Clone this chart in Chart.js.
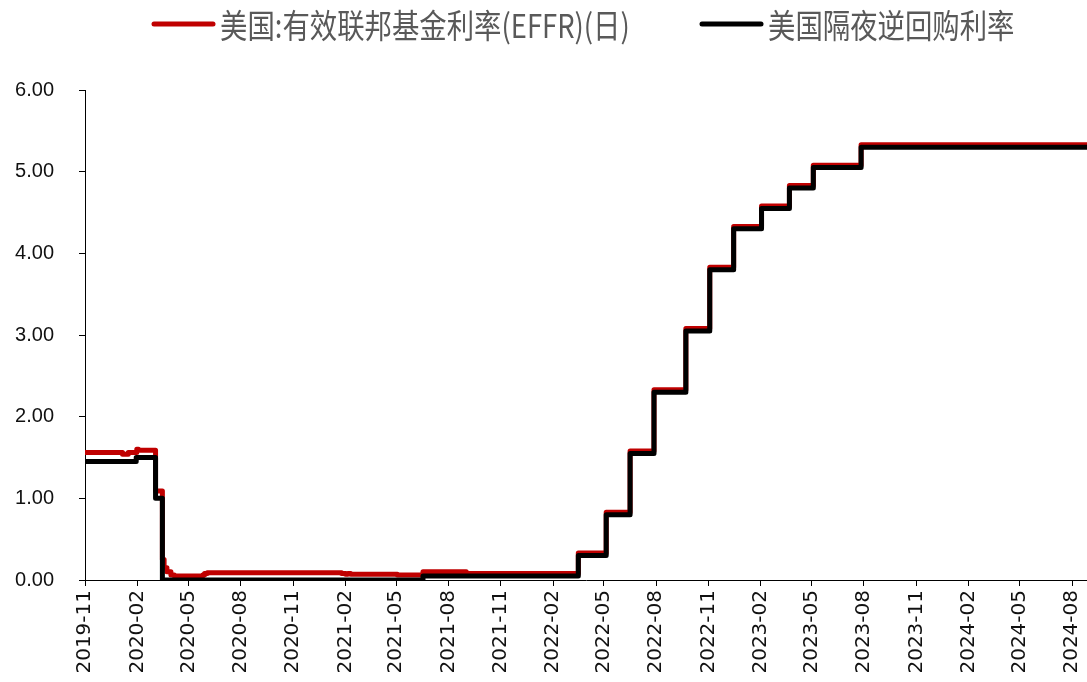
<!DOCTYPE html>
<html>
<head>
<meta charset="utf-8">
<script src="https://cdn.jsdelivr.net/npm/chart.js@4.4.1/dist/chart.umd.min.js"></script>
<style>
  html, body { margin: 0; padding: 0; background: #fff; }
  #wrap { width: 1087px; height: 682px; position: relative; }
</style>
</head>
<body>
<div id="wrap"><canvas id="c" width="1087" height="682"></canvas></div>
<script>
// Series labels
const seriesNames = ['美国:有效联邦基金利率(EFFR)(日)', '美国隔夜逆回购利率'];

// Effective federal funds rate: dates where the rate changes, and the new level (%)
const effrDates = [
  '2019-11-01', '2020-01-06', '2020-01-16', '2020-01-31', '2020-02-03',
  '2020-03-04', '2020-03-16', '2020-03-19', '2020-03-24', '2020-03-31',
  '2020-04-06', '2020-05-26', '2020-05-29', '2020-06-03', '2021-01-25',
  '2021-02-01', '2021-02-05', '2021-02-10', '2021-05-03', '2021-06-17',
  '2021-09-01', '2022-03-17', '2022-05-05', '2022-06-16', '2022-07-28',
  '2022-09-22', '2022-11-03', '2022-12-15', '2023-02-02', '2023-03-23',
  '2023-05-04', '2023-07-27', '2024-08-27'
];
const effrValues = [
  1.56, 1.54, 1.56, 1.60, 1.59,
  1.09, 0.25, 0.15, 0.10, 0.06,
  0.05, 0.06, 0.08, 0.09, 0.08,
  0.07, 0.08, 0.07, 0.06, 0.10,
  0.08, 0.33, 0.83, 1.58, 2.33,
  3.08, 3.83, 4.33, 4.58, 4.83,
  5.08, 5.33, 5.33
];

// Overnight reverse repo offering rate: change dates and levels (%)
const rrpDates = [
  '2019-11-01', '2020-01-30', '2020-03-04', '2020-03-16', '2021-06-17',
  '2022-03-17', '2022-05-05', '2022-06-16', '2022-07-28', '2022-09-22',
  '2022-11-03', '2022-12-15', '2023-02-02', '2023-03-23', '2023-05-04',
  '2023-07-27', '2024-08-27'
];
const rrpValues = [
  1.45, 1.50, 1.00, 0.00, 0.05,
  0.30, 0.80, 1.55, 2.30, 3.05,
  3.80, 4.30, 4.55, 4.80, 5.05,
  5.30, 5.30
];

// Month labels along the date axis
const tickLabels = [
  '2019-11', '2020-02', '2020-05', '2020-08', '2020-11', '2021-02', '2021-05',
  '2021-08', '2021-11', '2022-02', '2022-05', '2022-08', '2022-11', '2023-02',
  '2023-05', '2023-08', '2023-11', '2024-02', '2024-05', '2024-08'
];

// Start and end of the plotted period
const startDate = '2019-11-01';
const endDate = '2024-08-27';

const seriesColors = ['#C00000', '#000000'];

function dayNumber(s) {
  const p = s.split('-').map(Number);
  return Math.round(Date.UTC(p[0], p[1] - 1, p[2] || 1) / 86400000);
}
const day0 = dayNumber(startDate);
const toX = s => dayNumber(s) - day0;

const effrPoints = effrDates.map((d, i) => ({ x: toX(d), y: effrValues[i] }));
const rrpPoints = rrpDates.map((d, i) => ({ x: toX(d), y: rrpValues[i] }));
const tickValues = tickLabels.map(l => toX(l + '-01'));
const labelByValue = {};
tickValues.forEach((v, i) => { labelByValue[v] = tickLabels[i]; });

// Legend drawn across the top: line sample followed by the series name
const topLegend = {
  id: 'topLegend',
  afterDraw(chart) {
    const ctx = chart.ctx;
    const y = 24;
    const itemStarts = [152, 700];
    const sampleW = 63, gap = 5, squeeze = 0.83;
    ctx.save();
    ctx.font = '33px "Noto Sans CJK SC"';
    ctx.textBaseline = 'middle';
    chart.data.datasets.forEach((ds, i) => {
      const x = itemStarts[i];
      ctx.strokeStyle = ds.borderColor;
      ctx.lineWidth = 5;
      ctx.lineCap = 'round';
      ctx.beginPath();
      ctx.moveTo(x + 2, y);
      ctx.lineTo(x + sampleW - 2, y);
      ctx.stroke();
      const tx = x + sampleW + gap;
      ctx.save();
      ctx.translate(tx, y);
      ctx.scale(squeeze, 1);
      ctx.fillStyle = '#595959';
      ctx.fillText(ds.label, 0, 1);
      ctx.restore();
    });
    ctx.restore();
  }
};

new Chart(document.getElementById('c'), {
  type: 'line',
  data: {
    datasets: [
      {
        label: seriesNames[0],
        data: effrPoints,
        borderColor: seriesColors[0],
        backgroundColor: seriesColors[0],
        borderWidth: 5,
        stepped: true,
        pointRadius: 0,
        borderJoinStyle: 'round',
        borderCapStyle: 'round',
        order: 2
      },
      {
        label: seriesNames[1],
        data: rrpPoints,
        borderColor: seriesColors[1],
        backgroundColor: seriesColors[1],
        borderWidth: 5,
        stepped: true,
        pointRadius: 0,
        borderJoinStyle: 'round',
        borderCapStyle: 'round',
        order: 1
      }
    ]
  },
  options: {
    responsive: false,
    animation: false,
    layout: { padding: { top: 90, right: 0, bottom: 0, left: 0 } },
    plugins: {
      legend: { display: false },
      tooltip: { enabled: false }
    },
    scales: {
      x: {
        type: 'linear',
        min: 0,
        max: toX(endDate),
        afterBuildTicks(scale) {
          scale.ticks = tickValues.map(v => ({ value: v }));
        },
        afterFit(scale) {
          scale.height = 102;
          scale.paddingLeft = 0;
          scale.paddingRight = 0;
        },
        grid: { display: true, drawOnChartArea: false, drawTicks: true, tickLength: 6, color: '#000', lineWidth: 1 },
        border: { display: true, color: '#000', width: 1 },
        ticks: {
          autoSkip: false,
          minRotation: 90,
          maxRotation: 90,
          padding: 4,
          color: '#111',
          font: { family: '"DejaVu Sans"', size: 20 },
          callback: v => labelByValue[v] || ''
        }
      },
      y: {
        min: 0,
        max: 6,
        afterFit(scale) { scale.width = 85; },
        grid: { display: true, drawOnChartArea: false, drawTicks: true, tickLength: 6, color: '#000', lineWidth: 1 },
        border: { display: true, color: '#000', width: 1 },
        ticks: {
          stepSize: 1,
          padding: 25,
          color: '#111',
          font: { family: '"Liberation Sans"', size: 20 },
          callback: v => v.toFixed(2)
        }
      }
    }
  },
  plugins: [topLegend]
});
</script>
</body>
</html>
